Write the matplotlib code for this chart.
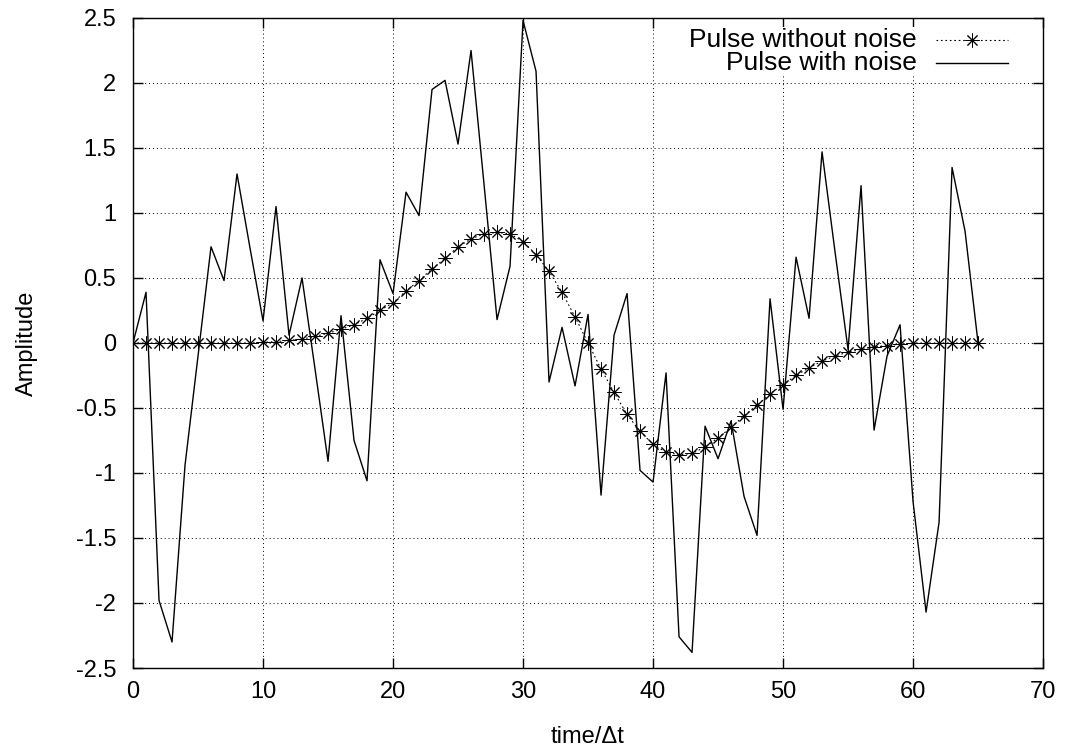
import numpy as np
import matplotlib
matplotlib.use('Agg')
import matplotlib.pyplot as plt
from matplotlib.lines import Line2D
from matplotlib.ticker import FormatStrFormatter

plt.rcParams['font.family'] = ['Liberation Sans', 'DejaVu Sans']
plt.rcParams['axes.unicode_minus'] = False

# time samples (in units of delta t)
t = np.arange(0, 66)

# pulse without noise
clean = [0, 0, 0, 0, 0, 0, 0, 0, 0, 0,
         0.005, 0.01, 0.02, 0.03, 0.05, 0.075, 0.105, 0.14, 0.19, 0.25,
         0.31, 0.40, 0.48, 0.57, 0.65, 0.74, 0.80, 0.84, 0.85, 0.84,
         0.78, 0.68, 0.55, 0.39, 0.20, 0.0, -0.20, -0.38, -0.55, -0.68,
         -0.78, -0.84, -0.86, -0.85, -0.80, -0.73, -0.65, -0.56, -0.48, -0.39,
         -0.32, -0.25, -0.19, -0.14, -0.10, -0.07, -0.05, -0.03, -0.02, -0.01,
         0, 0, 0, 0, 0, 0]

# pulse with noise
noisy = [0.0, 0.39, -1.98, -2.30, -0.94, -0.10, 0.74, 0.48, 1.30, 0.73,
         0.17, 1.05, 0.06, 0.50, -0.20, -0.91, 0.21, -0.75, -1.06, 0.64,
         0.38, 1.16, 0.98, 1.95, 2.02, 1.53, 2.25, 1.22, 0.18, 0.59,
         2.48, 2.09, -0.30, 0.12, -0.33, 0.22, -1.17, 0.06, 0.38, -0.98,
         -1.07, -0.23, -2.26, -2.38, -0.64, -0.89, -0.60, -1.18, -1.48, 0.34,
         -0.51, 0.66, 0.19, 1.47, 0.70, -0.05, 1.21, -0.67, -0.10, 0.14,
         -1.22, -2.07, -1.38, 1.35, 0.86, 0.0]

x_ticks = [0, 10, 20, 30, 40, 50, 60, 70]
y_ticks = [-2.5, -2, -1.5, -1, -0.5, 0, 0.5, 1, 1.5, 2, 2.5]

FS = 17

fig = plt.figure(figsize=(10.65, 7.52), dpi=100)
ax = fig.add_axes([0.1249, 0.1117, 0.8545, 0.8644])

star = (8, 2, 0)
ax.plot(t, clean, color='black', linestyle=(0, (1.5, 2.5)), linewidth=0.8,
        marker=star, markersize=10, markeredgewidth=0.7, zorder=3)
ax.plot(t, noisy, color='black', linewidth=1.0, zorder=4)

ax.set_xlim(0, 70)
ax.set_ylim(-2.5, 2.5)
ax.set_xticks(x_ticks)
ax.set_yticks(y_ticks)
ax.yaxis.set_major_formatter(FormatStrFormatter('%g'))
ax.grid(True, color='black', linestyle=(0, (1, 3)), linewidth=0.7)
ax.tick_params(direction='in', length=7, width=1, top=True, right=True,
               labelsize=FS)
ax.tick_params(axis='x', pad=9)
ax.tick_params(axis='y', pad=12)
for s in ax.spines.values():
    s.set_linewidth(1.0)

ax.set_xlabel('time/\u0394t', fontsize=FS, labelpad=17)
ax.set_ylabel('Amplitude', fontsize=FS, labelpad=27)

# gnuplot style key: text right aligned, sample to the right
tr = ax.transAxes
ax.text(0.8615, 0.966, 'Pulse without noise', transform=tr, ha='right',
        va='center', fontsize=19, zorder=6,
        bbox=dict(facecolor='white', edgecolor='none', pad=1))
ax.text(0.8615, 0.931, 'Pulse with noise', transform=tr, ha='right',
        va='center', fontsize=19, zorder=6,
        bbox=dict(facecolor='white', edgecolor='none', pad=1))
ax.add_line(Line2D([0.882, 0.9615], [0.966, 0.966], transform=tr,
                   color='black', linestyle=(0, (1.5, 2.5)), linewidth=0.8))
ax.add_line(Line2D([0.922], [0.966], transform=tr, color='black',
                   marker=star, markersize=10, markeredgewidth=0.7))
ax.add_line(Line2D([0.882, 0.9615], [0.931, 0.931], transform=tr,
                   color='black', linewidth=1.0))

fig.savefig('out.png', dpi=100)
